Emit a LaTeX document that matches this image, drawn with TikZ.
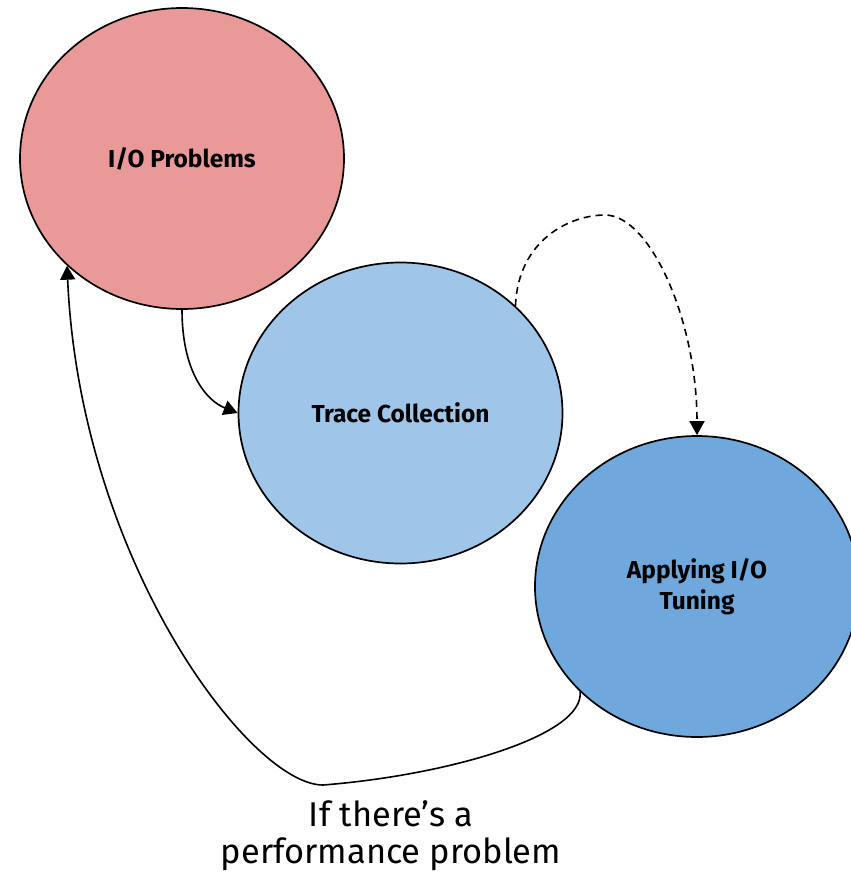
\documentclass[tikz,border=0pt]{standalone}
\usepackage{fontspec}
\setmainfont{Fira Sans}
\usetikzlibrary{shapes.geometric,arrows.meta}
\definecolor{cred}{HTML}{EA9999}
\definecolor{clight}{HTML}{9FC5E8}
\definecolor{cblue}{HTML}{6FA8DC}
\tikzset{
  bubble/.style={ellipse, draw=black, line width=1.7pt, minimum width=324pt, minimum height=301pt, inner sep=0pt, align=center, font=\fontsize{24.5}{31}\selectfont\bfseries},
  conn/.style={line width=1.6pt, -{Triangle[length=14pt,width=15pt]}},
}
\begin{document}
\begin{tikzpicture}[x=1pt,y=-1pt]
\useasboundingbox (0,0) rectangle (851,881);
\node[bubble, fill=cred] (io) at (182,158.5) {I/O Problems};
\node[bubble, fill=clight] (tc) at (400.5,413) {Trace Collection};
\node[bubble, fill=cblue] (at) at (697,586.5) {Applying I/O\\Tuning};
\coordinate (low) at (323,785);
\coordinate (peak) at (605,215);
\draw[conn] (io.south) .. controls (182,370) and (205,400) .. (tc.west);
\draw[conn, dashed, dash pattern=on 7pt off 5pt] (tc.43) .. controls (518,240) and (570,215) .. (peak) .. controls (650,215) and (697,320) .. (at.north);
\draw[conn] (at.222.8) .. controls (585,735) and (450,775) .. (low) .. controls (250,785) and (80,560) .. (io.223.6);
\node[font=\fontsize{34.4}{37}\selectfont, align=center, anchor=north] (lbl) at (391,797) {If there’s a\\performance problem};
\end{tikzpicture}
\end{document}
